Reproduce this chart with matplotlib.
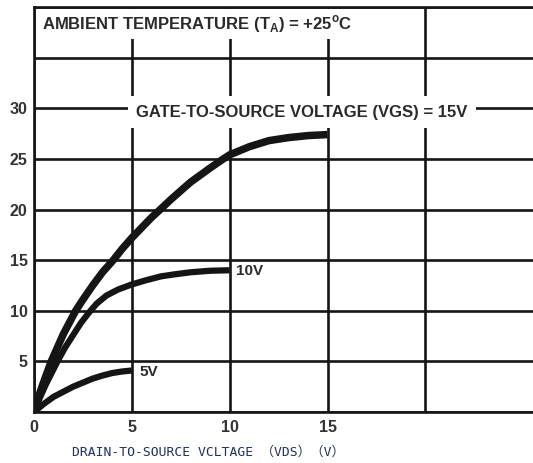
import matplotlib
matplotlib.use("Agg")
import matplotlib.pyplot as plt

# ---- data ----
vds_15 = [0, 0.3, 0.5, 0.88, 1.5, 2.13, 2.5, 3.0, 3.5, 4.05, 4.5, 5.0, 5.5,
          6.0, 6.45, 7.0, 8.0, 9.0, 9.6, 10.0, 11.0, 12.0, 13.0, 14.0, 15.0]
id_15 = [0, 1.9, 3.0, 5.0, 7.7, 10.0, 11.1, 12.5, 13.8, 15.0, 16.1, 17.2, 18.2,
         19.2, 20.0, 21.0, 22.7, 24.1, 24.9, 25.4, 26.2, 26.8, 27.1, 27.3, 27.4]

vds_10 = [0, 0.3, 0.6, 1.2, 1.6, 2.0, 2.4, 2.8, 3.2, 3.7, 4.3, 5.0, 5.7, 6.5,
          7.2, 8.0, 9.0, 10.0]
id_10 = [0, 1.4, 2.7, 5.0, 6.4, 7.6, 8.8, 9.8, 10.7, 11.5, 12.1, 12.6, 13.0,
         13.4, 13.6, 13.8, 13.95, 14.0]

vds_5 = [0, 0.5, 1.0, 1.5, 2.0, 2.5, 3.0, 3.5, 4.0, 4.5, 5.0]
id_5 = [0, 0.8, 1.5, 2.0, 2.5, 2.9, 3.3, 3.6, 3.85, 4.0, 4.1]

x_ticks = [0, 5, 10, 15, 20]
x_tick_labels = ["0", "5", "10", "15", ""]
y_ticks = [0, 5, 10, 15, 20, 25, 30, 35, 40]
y_tick_labels = ["", "5", "10", "15", "20", "25", "30", "", ""]

header_text = r"AMBIENT TEMPERATURE (T$_\mathregular{A}$) = +25$^\mathregular{o}$C"
vgs_text = "GATE-TO-SOURCE VOLTAGE (VGS) = 15V"
label_10 = "10V"
label_5 = "5V"
xlabel_text = "DRAIN-TO-SOURCE VCLTAGE （VDS）（V）"

# ---- figure ----
W, H = 533, 463
fig = plt.figure(figsize=(W / 100, H / 100), dpi=100)
left_px, right_px, bottom_px, top_px = 34, 533, 412, 7
ax = fig.add_axes([left_px / W, (H - bottom_px) / H,
                   (right_px - left_px) / W, (bottom_px - top_px) / H])
ax.set_xlim(0, 25.5)
ax.set_ylim(0, 40)

line_col = "#151515"
grid_lw = 1.9
ax.set_xticks(x_ticks)
ax.set_xticklabels(x_tick_labels)
ax.set_yticks(y_ticks)
ax.set_yticklabels(y_tick_labels)
ax.grid(True, color=line_col, linewidth=grid_lw, zorder=1)
ax.set_axisbelow(True)
ax.tick_params(axis="y", length=0, pad=4.5, labelsize=11.5, labelcolor="#333333")
ax.tick_params(axis="x", length=0, pad=6, labelsize=11.5, labelcolor="#333333")
for lbl in ax.get_xticklabels() + ax.get_yticklabels():
    lbl.set_fontweight("bold")
    lbl.set_family("Liberation Sans")

ax.spines["right"].set_visible(False)
for side in ["left", "bottom", "top"]:
    ax.spines[side].set_color(line_col)
    ax.spines[side].set_linewidth(grid_lw)

# curves
ax.plot(vds_15, id_15, color=line_col, lw=5.4, solid_capstyle="butt",
        solid_joinstyle="round", zorder=3)
ax.plot(vds_10, id_10, color=line_col, lw=4.5, solid_capstyle="butt",
        solid_joinstyle="round", zorder=3)
ax.plot(vds_5, id_5, color=line_col, lw=4.5, solid_capstyle="butt",
        solid_joinstyle="round", zorder=3)

txt_kw = dict(fontweight="bold", family="Liberation Sans",
              color="#2a2a2a", zorder=5)
ax.text(0.42, 38.3, header_text, ha="left", va="center", fontsize=12,
        bbox=dict(facecolor="white", edgecolor="none", pad=3), **txt_kw)
ax.text(13.68, 29.6, vgs_text, ha="center", va="center", fontsize=12,
        bbox=dict(facecolor="white", edgecolor="none", pad=6), **txt_kw)
ax.text(10.3, 13.9, label_10, ha="left", va="center", fontsize=11,
        bbox=dict(facecolor="white", edgecolor="none", pad=1), **txt_kw)
ax.text(5.4, 3.95, label_5, ha="left", va="center", fontsize=11,
        bbox=dict(facecolor="white", edgecolor="none", pad=1), **txt_kw)

fig.text(72 / W, 1 - 452 / H, xlabel_text, ha="left", va="center",
         fontsize=9.4, color="#22305e",
         family=["DejaVu Sans Mono", "Noto Sans CJK SC"])

fig.savefig("out.png", dpi=100, facecolor="white")
